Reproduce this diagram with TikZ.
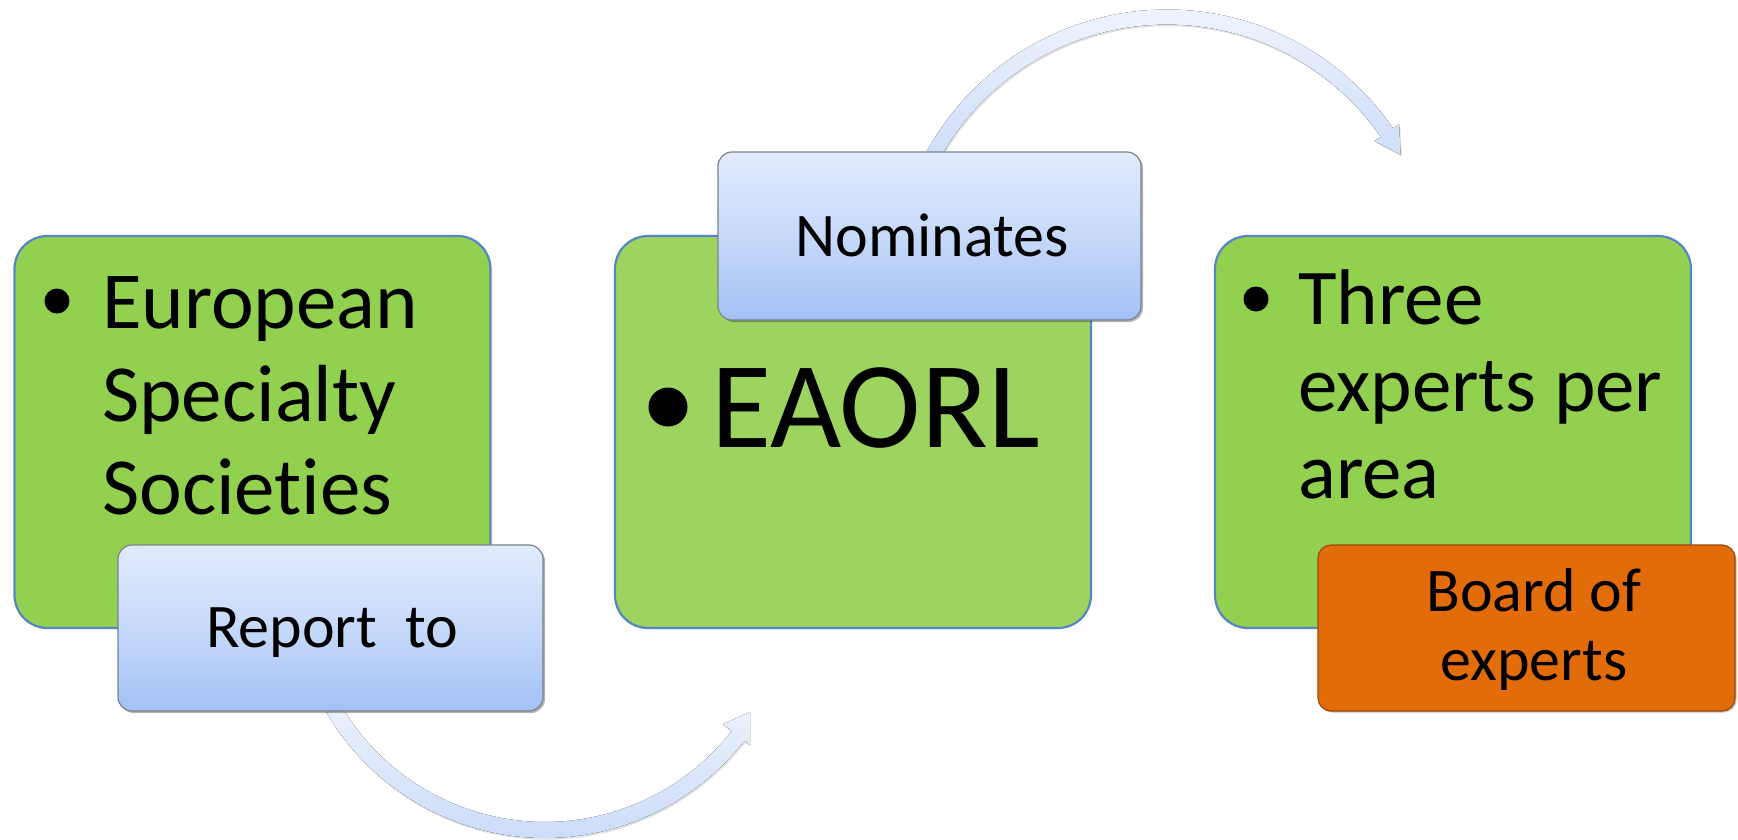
\documentclass[tikz,border=0pt]{standalone}
\usepackage{fontspec}
\setmainfont{Carlito}[Ligatures={NoCommon,NoContextual}]
\usetikzlibrary{shadows}
\definecolor{gA}{HTML}{92D050}
\definecolor{gB}{HTML}{9DD45F}
\definecolor{gEdge}{HTML}{5585C4}
\definecolor{bTop}{HTML}{E2EBFD}
\definecolor{bMid}{HTML}{C6D9FA}
\definecolor{bBot}{HTML}{A3C1F6}
\definecolor{bEdge}{HTML}{7A828C}
\definecolor{orFill}{HTML}{E36C0A}
\definecolor{orEdge}{HTML}{9A4A08}
\definecolor{arTop}{HTML}{EEF3FD}
\definecolor{arBot}{HTML}{CCDCF9}
\begin{document}
\begin{tikzpicture}[x=1pt,y=-1pt,
  greenbox/.style={draw=gEdge, line width=2.2pt, rounded corners=33pt, inner sep=0pt,
    minimum width=476pt, minimum height=392pt},
  bluebox/.style={draw=bEdge, line width=1.2pt, rounded corners=14pt,
    top color=bTop, bottom color=bBot, middle color=bMid, inner sep=0pt,
    drop shadow={shadow xshift=2pt, shadow yshift=-2pt, fill=black, opacity=0.3}},
  orbox/.style={draw=orEdge, line width=1.2pt, rounded corners=13pt, fill=orFill, inner sep=0pt,
    drop shadow={shadow xshift=1.5pt, shadow yshift=-1.5pt, fill=black, opacity=0.25}},
  bul/.style={circle, fill=black, inner sep=0pt, minimum size=#1},
  bigtxt/.style={anchor=base west, inner sep=0pt},
  labtxt/.style={anchor=base, inner sep=0pt, font=\fontsize{62pt}{69pt}\selectfont},
  arrfill/.style={top color=arTop, bottom color=arBot},
  arrshadow/.style={fill=gray, opacity=0.22}
]
\useasboundingbox (0,0) rectangle (1738,839);
\fill[white] (0,0) rectangle (1738,839);

% bottom curved arrow (Report to -> EAORL)
\begin{scope}
  \clip (0,0) rectangle (750,839);
  \begin{scope}[shift={(545,585)}]
    \fill[arrshadow, shift={(1.2,1.8)}] (152:253) -- plot[domain=152:38,samples=70] (\x:253) -- (38:265) -- (30.4:245) -- (38:226) -- plot[domain=38:152,samples=70] (\x:237) -- cycle;
    \fill[arrfill] (152:253) -- plot[domain=152:38,samples=70] (\x:253) -- (38:265) -- (30.4:245) -- (38:226) -- plot[domain=38:152,samples=70] (\x:237) -- cycle;
  \end{scope}
\end{scope}

% top curved arrow (Nominates -> Three experts)
\begin{scope}
  \clip (0,0) rectangle (1402,839);
  \begin{scope}[shift={(1167,284)}]
    \fill[arrshadow, shift={(1.2,1.8)}] (206:274.5) -- plot[domain=206:325.4,samples=70] (\x:274.5) -- (325.4:282) -- (331:267) -- (325.4:252) -- plot[domain=325.4:206,samples=70] (\x:259.5) -- cycle;
    \fill[arrfill] (206:274.5) -- plot[domain=206:325.4,samples=70] (\x:274.5) -- (325.4:282) -- (331:267) -- (325.4:252) -- plot[domain=325.4:206,samples=70] (\x:259.5) -- cycle;
  \end{scope}
\end{scope}

% left group
\node[greenbox, fill=gA] (g1) at (252.5,432) {};
\node[bul=25pt] (u1) at (57,301) {};
\node[bigtxt, font=\fontsize{81pt}{93pt}\selectfont] (t1) at (102,328)
  {\parbox[t]{380pt}{\raggedright European\\Specialty\\Societies}};
\node[bluebox, minimum width=425pt, minimum height=166pt] (b1) at (330.5,628) {};
\node[labtxt] (l1) at (332,647) {Report\ \ to};

% middle group
\node[greenbox, fill=gB] (g2) at (853,432) {};
\node[bul=39pt] (u2) at (668,407) {};
\node[bigtxt, font=\fontsize{123pt}{140pt}\selectfont] (t2) at (711,447) {EAORL};
\node[bluebox, minimum width=423pt, minimum height=168pt] (b2) at (929.5,236) {};
\node[labtxt] (l2) at (932,256) {Nominates};

% right group
\node[greenbox, fill=gA] (g3) at (1453,432) {};
\node[bul=25pt] (u3) at (1256,299) {};
\node[bigtxt, font=\fontsize{79pt}{87pt}\selectfont] (t3) at (1298,324)
  {\parbox[t]{380pt}{\raggedright Three\\experts per\\area}};
\node[orbox, minimum width=417pt, minimum height=166pt] (o3) at (1526.5,628) {};
\node[labtxt] (l3) at (1534,611) {\parbox[t]{400pt}{\centering Board of\\experts}};
\end{tikzpicture}
\end{document}
